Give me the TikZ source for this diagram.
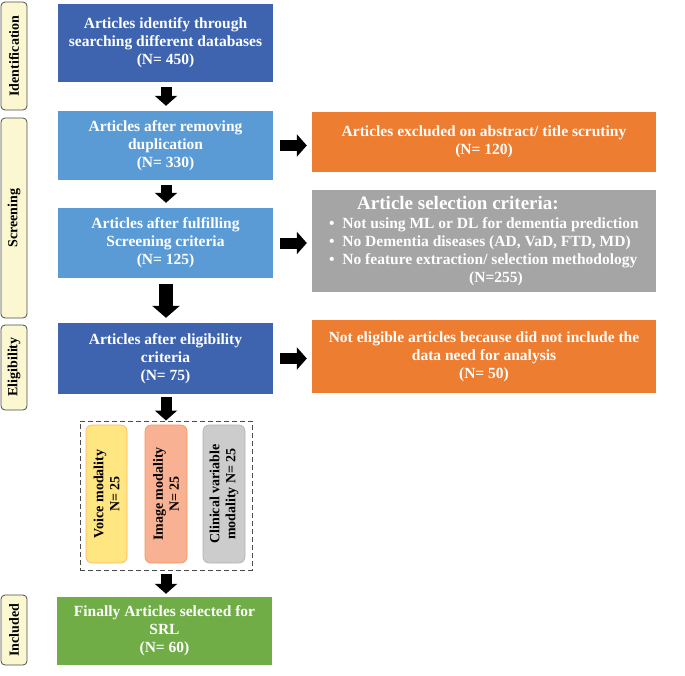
\documentclass[tikz,border=0pt]{standalone}
\usepackage{fontspec}
\setmainfont{Liberation Serif}
\usetikzlibrary{arrows.meta}
\definecolor{dblue}{HTML}{3E64B0}
\definecolor{lblue}{HTML}{5B9BD5}
\definecolor{orng}{HTML}{ED7D31}
\definecolor{gry}{HTML}{A5A5A5}
\definecolor{grn}{HTML}{70AD47}
\definecolor{side}{HTML}{FBF7D0}
\begin{document}
\begin{tikzpicture}[x=1pt,y=-1pt,
 box/.style={draw=none,text=white,font=\bfseries\fontsize{15.5}{18}\selectfont,align=center,inner sep=0pt,anchor=center},
 side/.style={draw=black!70,fill=side,rounded corners=4pt,line width=0.8pt},
 stxt/.style={rotate=90,font=\bfseries\fontsize{14}{16}\selectfont},
 arr/.style={line width=11pt,-{Triangle[width=22pt,length=10pt]}},
 mod/.style={rounded corners=6pt,line width=0.6pt}]
\useasboundingbox (0,0) rectangle (685,675);
% side labels
\draw[side] (1,2) rectangle (27,110); \node[stxt] (s1) at (14,56) {Identification};
\draw[side] (1,118) rectangle (27,318); \node[stxt] (s2) at (14,218) {Screening};
\draw[side] (1,325) rectangle (27,410); \node[stxt] (s3) at (14,367) {Eligibility};
\draw[side] (1,595) rectangle (27,665); \node[stxt] (s4) at (14,630) {Included};
% main boxes
\node[fill=dblue,minimum width=215pt,minimum height=78pt] (b1) at (165.5,43) {};
\node[box] at (b1) {Articles identify through\\searching different databases\\(N= 450)};
\node[fill=lblue,minimum width=215pt,minimum height=69pt] (b2) at (165.5,145.5) {};
\node[box] at (b2) {Articles after removing\\duplication\\(N= 330)};
\node[fill=lblue,minimum width=215pt,minimum height=70pt] (b3) at (165.5,243) {};
\node[box] at (b3) {Articles after fulfilling\\Screening criteria\\(N= 125)};
\node[fill=dblue,minimum width=215pt,minimum height=71pt] (b4) at (165.5,358.5) {};
\node[box] at (b4) {Articles after eligibility\\criteria\\(N= 75)};
\node[fill=grn,minimum width=215pt,minimum height=68pt] (b5) at (164.5,631) {};
\node[box] at (b5) {Finally Articles selected for\\SRL\\(N= 60)};
% right boxes
\node[fill=orng,minimum width=344pt,minimum height=60pt] (r1) at (484,142) {};
\node[box] at (r1) {Articles excluded on abstract/ title scrutiny\\(N= 120)};
\node[fill=gry,minimum width=344pt,minimum height=102pt] (r2) at (484,241) {};
\node[box,align=left] at (r2) {\hspace*{28pt}{\fontsize{19}{21}\selectfont Article selection criteria:}\\[1pt]
 \textbullet\enspace Not using ML or DL for dementia prediction\\
 \textbullet\enspace No Dementia diseases (AD, VaD, FTD, MD)\\
 \textbullet\enspace No feature extraction/ selection methodology\\
 \hspace*{140pt}(N=255)};
\node[fill=orng,minimum width=344pt,minimum height=73pt] (r3) at (484,356.5) {};
\node[box] at (r3) {Not eligible articles because did not include the\\data need for analysis\\(N= 50)};
% modalities
\node[draw=black!70,line width=1pt,dash pattern=on 5pt off 3pt,minimum width=172pt,minimum height=149pt] (mb) at (166,495.5) {};
\draw[mod,draw=orange!60,fill=orange!40!yellow!50] (86,425) rectangle (127,563);
\node[stxt,align=center] (m1) at (106.5,494) {Voice modality\\N= 25};
\draw[mod,draw=orng!80,fill=orng!50!pink!80] (145,425) rectangle (187,563);
\node[stxt,align=center] (m2) at (166,494) {Image modality\\N= 25};
\draw[mod,draw=gray!60,fill=gray!40] (203,425) rectangle (245,563);
\node[stxt,align=center] (m3) at (224,494) {Clinical variable\\modality N= 25};
% arrows
\draw[arr,shorten <=5pt,shorten >=5pt] (b1.south -| 166,0) -- (b2.north -| 166,0);
\draw[arr,shorten <=5pt,shorten >=5pt] (b2.south -| 166,0) -- (b3.north -| 166,0);
\draw[arr,line width=14pt,-{Triangle[width=27pt,length=12pt]},shorten <=6pt,shorten >=5pt] (b3.south -| 166,0) -- (b4.north -| 166,0);
\draw[arr,shorten <=3pt,shorten >=0pt] (b4.south -| 166,0) -- (mb.north -| 166,0);
\draw[arr,shorten <=3pt,shorten >=3pt] (mb.south -| 166,0) -- (b5.north -| 166,0);
\draw[arr,shorten <=7pt,shorten >=5pt] (b2.east) -- (r1.west |- b2.east);
\draw[arr,shorten <=7pt,shorten >=5pt] (b3.east) -- (r2.west |- b3.east);
\draw[arr,shorten <=7pt,shorten >=5pt] (b4.east) -- (r3.west |- b4.east);
\end{tikzpicture}
\end{document}
